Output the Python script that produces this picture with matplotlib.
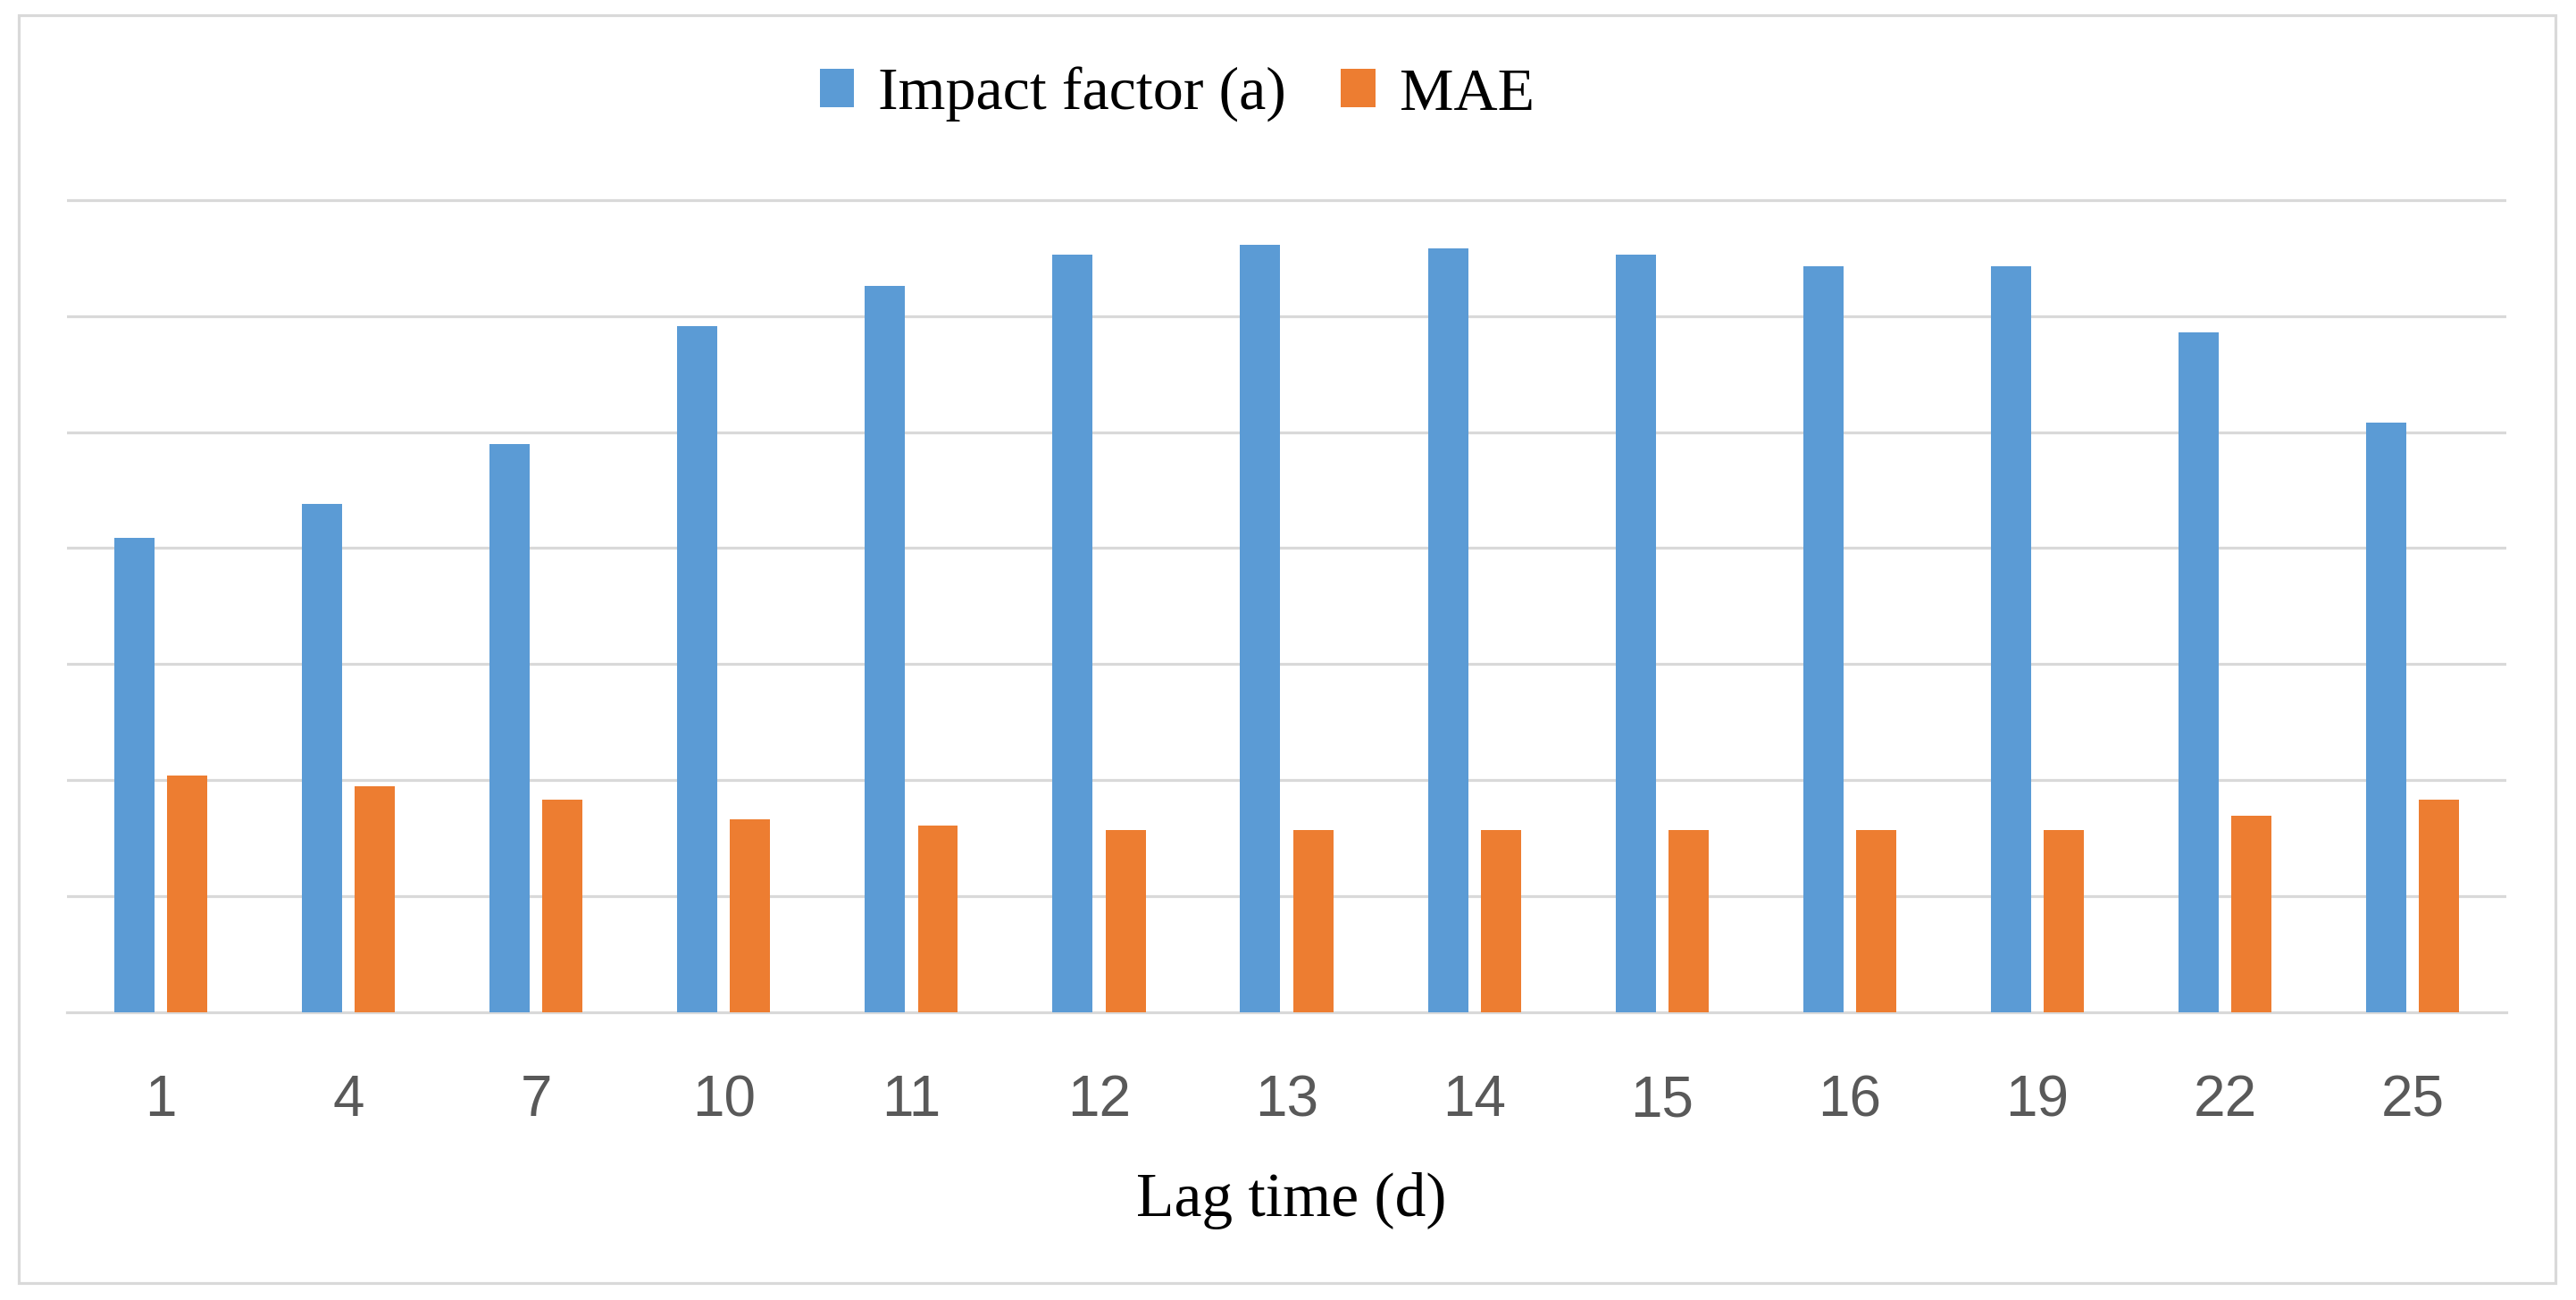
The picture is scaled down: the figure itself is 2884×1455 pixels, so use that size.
import numpy as np
import matplotlib
matplotlib.use("Agg")
import matplotlib.pyplot as plt
from matplotlib.patches import Rectangle

# data (y axis has no labels, one gridline = 1 unit)
lags = ["1", "4", "7", "10", "11", "12", "13", "14", "15", "16", "19", "22", "25"]
impact = [4.09, 4.38, 4.90, 5.91, 6.26, 6.53, 6.61, 6.58, 6.53, 6.43, 6.43, 5.86, 5.08]
mae = [2.04, 1.945, 1.83, 1.665, 1.61, 1.57, 1.57, 1.57, 1.57, 1.57, 1.57, 1.69, 1.83]

blue = "#5B9BD5"
orange = "#ED7D31"
grid_c = "#D9D9D9"

fig = plt.figure(figsize=(28.84, 14.55), dpi=100)
ax = fig.add_axes([0.026, 0.2213, 0.947, 0.6294])

x = np.arange(len(lags))
w = 0.214
ax.bar(x - 0.141, impact, width=w, color=blue, zorder=3, label="Impact factor (a)")
ax.bar(x + 0.141, mae, width=w, color=orange, zorder=3, label="MAE")

ax.set_xlim(-0.5, len(lags) - 0.5)
ax.set_ylim(0, 7.05)
ax.set_yticks(np.arange(1, 8))
ax.yaxis.grid(True, color=grid_c, linewidth=2.3, zorder=0)
ax.set_axisbelow(True)
ax.tick_params(axis="y", left=False, labelleft=False)

ax.set_xticks(x)
ax.set_xticklabels(lags, fontsize=46, color="#595959", family=["Liberation Sans", "DejaVu Sans"])
ax.tick_params(axis="x", length=0, pad=50)

for s in ["top", "left", "right"]:
    ax.spines[s].set_visible(False)
ax.spines["bottom"].set_color(grid_c)
ax.spines["bottom"].set_linewidth(2.3)

fig.text(0.5014, 0.0646, "Lag time (d)", ha="center", va="baseline",
         fontsize=50, family=["Liberation Serif", "DejaVu Serif"])

fig.legend(loc="center", bbox_to_anchor=(0.457, 0.927), ncol=2, frameon=False,
           prop={"family": ["Liberation Serif", "DejaVu Serif"], "size": 49},
           handlelength=0.566, handleheight=0.6, handletextpad=0.4, columnspacing=0.9)

# light outer frame around the whole chart
fig.patches.append(Rectangle((0.00728, 0.01306), 0.9847, 0.9752, transform=fig.transFigure,
                             fill=False, edgecolor=grid_c, linewidth=2.3))

fig.savefig("out.png", dpi=100, facecolor="white")
